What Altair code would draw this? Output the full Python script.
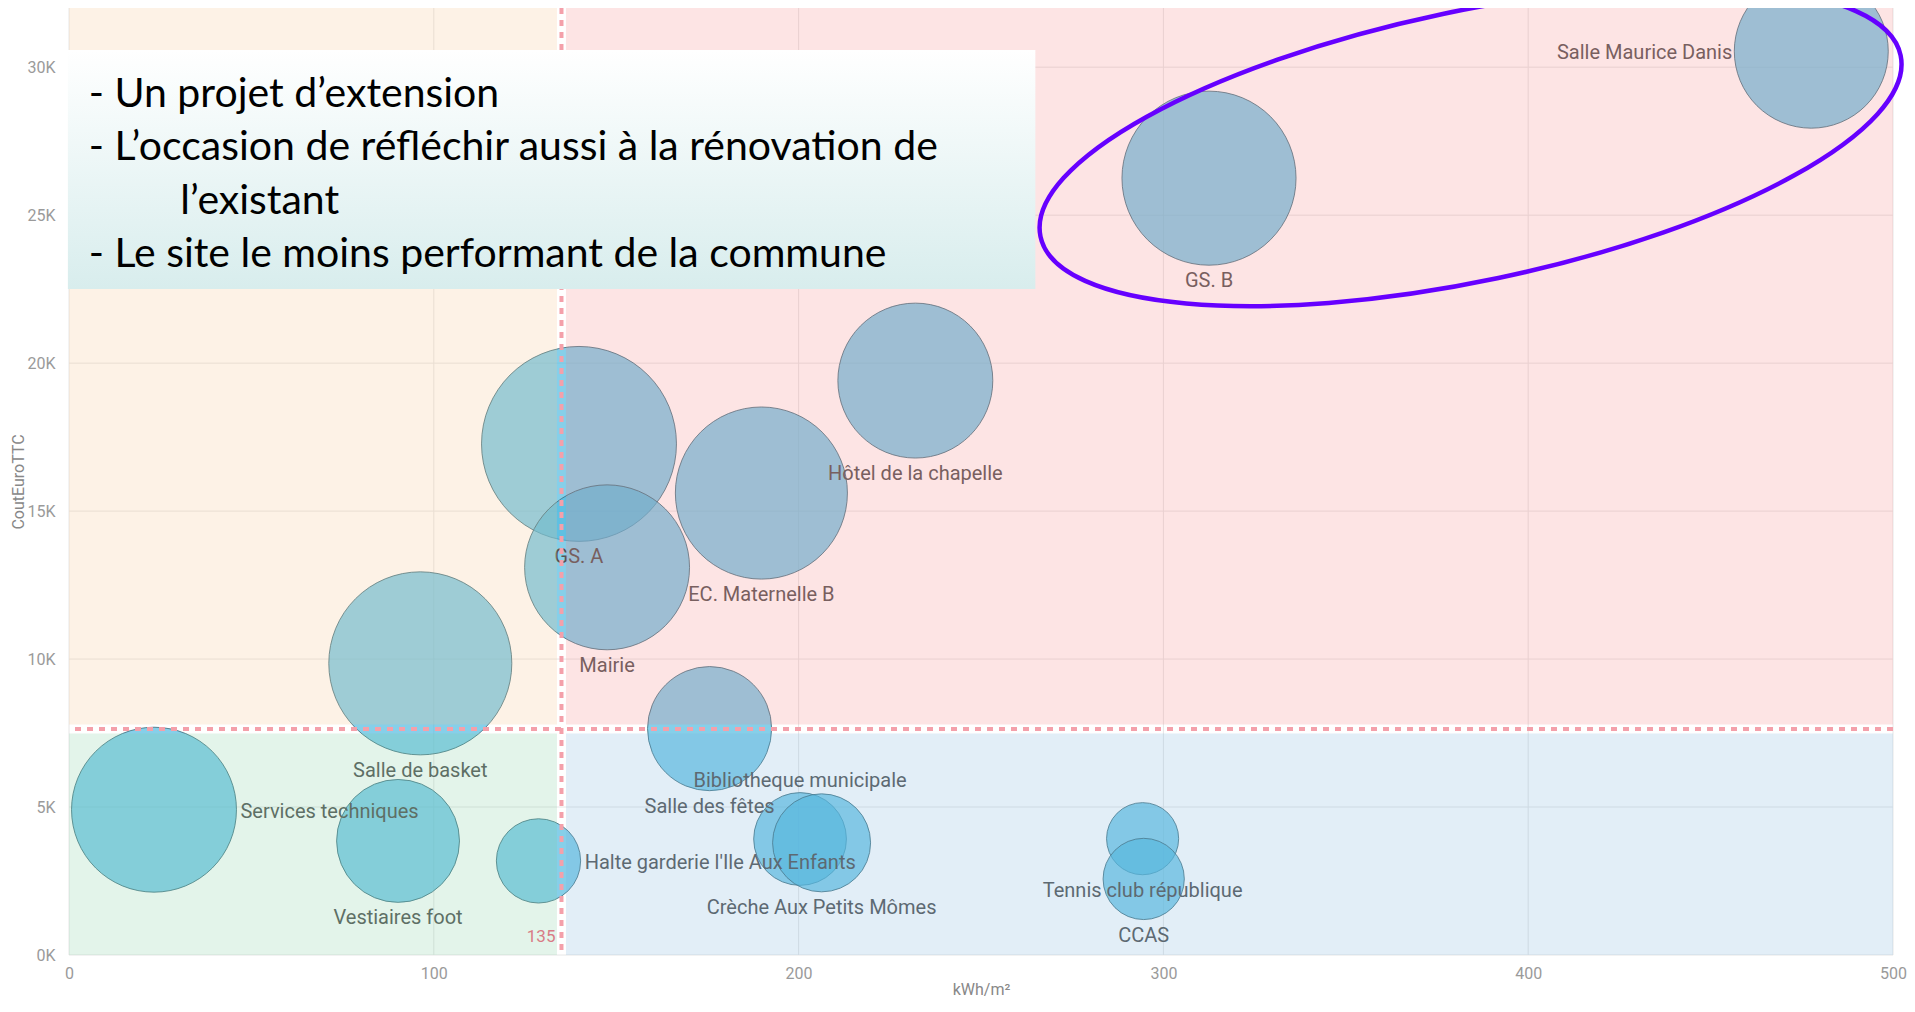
import altair as alt
import pandas as pd

# ---------------- data ----------------
sites = [
    "Salle Maurice Danis", "GS. B", "Hôtel de la chapelle", "GS. A",
    "EC. Maternelle B", "Mairie", "Salle de basket", "Services techniques",
    "Vestiaires foot", "Halte garderie l'Ile Aux Enfants", "Salle des fêtes",
    "Bibliotheque municipale", "Crèche Aux Petits Mômes",
    "Tennis club république", "CCAS",
]
kwh_m2 = [477.6, 312.5, 232.0, 139.8, 189.8, 147.5, 96.3, 23.3,
          90.2, 128.7, 175.6, 200.4, 206.3, 294.3, 294.6]
cout_euro_ttc = [30540, 26250, 19410, 17270, 15610, 13100, 9855, 4910,
                 3855, 3180, 7650, 3920, 3790, 3930, 2570]
taille = [237, 303, 240, 380, 296, 272, 335, 272,
          151, 71, 154, 86, 96, 52, 66]

x_ticks = [0, 100, 200, 300, 400, 500]
y_ticks = [0, 5000, 10000, 15000, 20000, 25000, 30000]
seuil_kwh = 135
seuil_cout = 7640

annotation_lines = [
    "- Un projet d\u2019extension",
    "- L\u2019occasion de réfléchir aussi à la rénovation de",
    "l\u2019existant",
    "- Le site le moins performant de la commune",
]
annotation_x = [5.4, 5.4, 30.5, 5.4]
annotation_y = [29060, 27269, 25461, 23654]
annotation_box_x = [-0.3, 264.9]
annotation_box_y = [22505, 30581]
ellipse_center_x = [384.2]
ellipse_center_y = [27337]

# ---------------- layout ----------------
W, H = 1824, 947
XMAX, YMAX = 500, 32000
ppx = W / XMAX
ppy = H / YMAX

X_SCALE = alt.Scale(domain=[0, XMAX], nice=False, zero=True)
Y_SCALE = alt.Scale(domain=[0, YMAX], nice=False, zero=True)
X_AXIS = alt.Axis(values=x_ticks, labelPadding=10, titlePadding=0, labelFlush=False)
Y_AXIS = alt.Axis(values=y_ticks, labelExpr="(datum.value/1000) + 'K'",
                  labelPadding=14, titlePadding=0, labelFlush=False)
X_TITLE = "kWh/m²"
Y_TITLE = "CoutEuroTTC"


def X(field):
    return alt.X(field, scale=X_SCALE, axis=X_AXIS, title=X_TITLE)


def Y(field):
    return alt.Y(field, scale=Y_SCALE, axis=Y_AXIS, title=Y_TITLE)


FONT = "Roboto"

df = pd.DataFrame({"site": sites, "kwh": kwh_m2, "cout": cout_euro_ttc, "taille": taille})
base = alt.Chart(df)

grid_x = alt.Chart(pd.DataFrame({"v": x_ticks})).mark_rule(
    color="#e6e6e6", strokeWidth=1
).encode(x=X("v:Q"))
grid_y = alt.Chart(pd.DataFrame({"v": y_ticks})).mark_rule(
    color="#e6e6e6", strokeWidth=1
).encode(y=Y("v:Q"))

bubbles = base.mark_circle(
    fill="#4db8de", fillOpacity=0.68, stroke="#41707f", strokeWidth=1, strokeOpacity=0.85,
    opacity=1,
).encode(
    x=X("kwh:Q"),
    y=Y("cout:Q"),
    size=alt.Size("taille:Q", scale=alt.Scale(type="linear", domain=[0, 380], range=[0, 38000]),
                  legend=None),
)

left_lbl = ["Salle Maurice Danis"]
right_lbl = ["Services techniques", "Halte garderie l'Ile Aux Enfants"]
top_lbl = ["Bibliotheque municipale"]
bottom_lbl = [s for s in sites if s not in left_lbl + right_lbl + top_lbl]


def label_layer(names, lx_expr, ly_expr, align):
    return base.transform_filter(
        alt.FieldOneOfPredicate(field="site", oneOf=names)
    ).transform_calculate(
        r="5*sqrt(datum.taille)"
    ).transform_calculate(
        lx=lx_expr, ly=ly_expr
    ).mark_text(
        align=align, baseline="middle", font=FONT, fontSize=20, color="#555555"
    ).encode(
        x=X("lx:Q"),
        y=Y("ly:Q"),
        text="site:N",
    )


labels = [
    label_layer(bottom_lbl, "datum.kwh", f"datum.cout - (datum.r + 16) / {ppy}", "center"),
    label_layer(top_lbl, "datum.kwh", f"datum.cout + (datum.r + 12) / {ppy}", "center"),
    label_layer(left_lbl, f"datum.kwh - (datum.r + 2) / {ppx}", f"datum.cout - 2 / {ppy}", "right"),
    label_layer(right_lbl, f"datum.kwh + (datum.r + 4) / {ppx}", f"datum.cout - 2 / {ppy}", "left"),
]

gx = 4.5 / ppx
gy = 4.5 / ppy
quad = pd.DataFrame({
    "zone": ["hg", "hd", "bg", "bd"],
    "x1": [0, seuil_kwh + gx, 0, seuil_kwh + gx],
    "x2": [seuil_kwh - gx, XMAX, seuil_kwh - gx, XMAX],
    "y1": [seuil_cout + gy, seuil_cout + gy, 0, 0],
    "y2": [YMAX, YMAX, seuil_cout - gy, seuil_cout - gy],
})
overlay = alt.Chart(quad).mark_rect(opacity=0.22).encode(
    x=X("x1:Q"), x2="x2:Q",
    y=Y("y1:Q"), y2="y2:Q",
    color=alt.Color("zone:N", scale=alt.Scale(domain=["hg", "hd", "bg", "bd"],
                                              range=["#f6c48d", "#f68484", "#80cda0", "#7bb2db"]),
                    legend=None),
)

vline = alt.Chart(pd.DataFrame({"v": [seuil_kwh]})).mark_rule(
    color="#f4a0aa", strokeWidth=4, strokeDash=[6, 6]
).encode(x=X("v:Q"))
hline = alt.Chart(pd.DataFrame({"v": [seuil_cout]})).mark_rule(
    color="#f4a0aa", strokeWidth=4, strokeDash=[6, 6]
).encode(y=Y("v:Q"))

t135 = alt.Chart(pd.DataFrame({"v": [seuil_kwh], "y0": [0]})).mark_text(
    align="right", baseline="middle", dx=-6, dy=-18, font=FONT, fontSize=17, color="#d97b86"
).encode(
    x=X("v:Q"),
    y=Y("y0:Q"),
    text=alt.Text("v:Q"),
)

box = alt.Chart(pd.DataFrame({
    "x1": [annotation_box_x[0]], "x2": [annotation_box_x[1]],
    "y1": [annotation_box_y[0]], "y2": [annotation_box_y[1]],
})).mark_rect(
    fill=alt.Gradient(gradient="linear", x1=0, y1=0, x2=0, y2=1,
                      stops=[alt.GradientStop(color="#ffffff", offset=0),
                             alt.GradientStop(color="#d8eded", offset=1)])
).encode(
    x=X("x1:Q"), x2="x2:Q",
    y=Y("y1:Q"), y2="y2:Q",
)

annot = alt.Chart(pd.DataFrame({
    "t": annotation_lines, "x": annotation_x, "y": annotation_y,
})).mark_text(
    align="left", baseline="middle", font="Lato", fontSize=41, color="#000000"
).encode(
    x=X("x:Q"),
    y=Y("y:Q"),
    text="t:N",
)

k = 0.5523
e = 0.307
ellipse_path = (
    f"M 1 0 C 1 {k*e:.4f} {k:.4f} {e} 0 {e} "
    f"C {-k:.4f} {e} -1 {k*e:.4f} -1 0 "
    f"C -1 {-k*e:.4f} {-k:.4f} {-e} 0 {-e} "
    f"C {k:.4f} {-e} 1 {-k*e:.4f} 1 0 Z"
)
ellipse = alt.Chart(pd.DataFrame({"x": ellipse_center_x, "y": ellipse_center_y})).mark_point(
    shape=ellipse_path, size=879 ** 2, filled=False, color="#6600ff", stroke="#6600ff",
    strokeWidth=4.5, opacity=1, angle=348.1, clip=False,
).encode(
    x=X("x:Q"),
    y=Y("y:Q"),
)

chart = alt.layer(
    grid_x, grid_y, bubbles, *labels, overlay, vline, hline, t135, box, annot, ellipse
).properties(
    width=W, height=H,
    autosize=alt.AutoSizeParams(type="none"),
    padding={"left": 61, "top": 0, "right": 14, "bottom": 44},
).configure_view(
    stroke=None
).configure_axis(
    grid=False, domain=False, ticks=False, tickSize=0,
    labelFont=FONT, labelFontSize=16, labelColor="#9a9a9a",
    titleFont=FONT, titleFontSize=16, titleColor="#888888", titleFontWeight="normal",
)

chart.save("out.html", embed_options={"renderer": "svg", "actions": False})
